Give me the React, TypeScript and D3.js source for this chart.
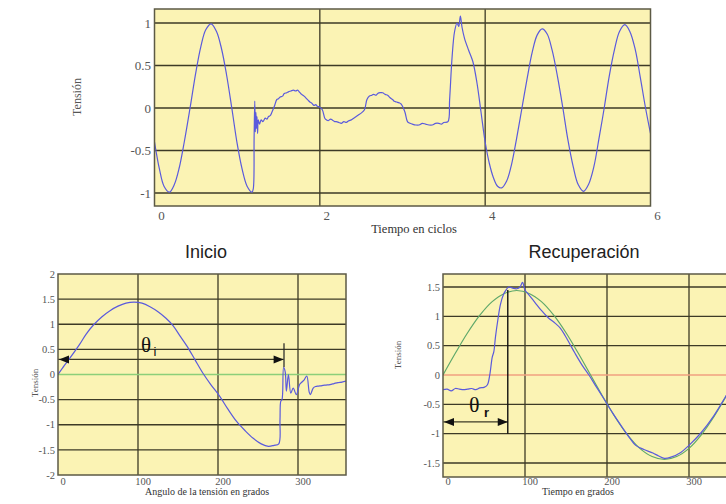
import React from "react";
import * as d3 from "d3";

// ---------- DATA ----------
// Top chart: tension vs time in cycles
const topXTicks = [0, 2, 4, 6];
const topYTicks = [1, 0.5, 0, -0.5, -1];
const topXGrid = [2, 4];
const topWave: [number, number][] = [
  [0, -0.4], [0.06, -0.72], [0.115, -0.92], [0.18, -0.99], [0.24, -0.9], [0.3, -0.7], [0.36, -0.4],
  [0.43, 0.0], [0.5, 0.42], [0.56, 0.72], [0.62, 0.92], [0.685, 0.99], [0.75, 0.9], [0.81, 0.7],
  [0.87, 0.4], [0.935, 0.0], [1.0, -0.42], [1.06, -0.72], [1.12, -0.92], [1.18, -0.99], [1.195, -0.95],
  [1.205, -0.35], [1.213, 0.08], [1.22, -0.28], [1.227, -0.05], [1.234, -0.24], [1.24, -0.1],
  [1.247, -0.3], [1.255, -0.14], [1.27, -0.19], [1.29, -0.14], [1.31, -0.16], [1.34, -0.12],
  [1.36, -0.13], [1.38, -0.1], [1.4, -0.09], [1.42, -0.05], [1.45, 0.02], [1.48, 0.1], [1.5, 0.11],
  [1.52, 0.13], [1.55, 0.14], [1.57, 0.17], [1.6, 0.18], [1.62, 0.19], [1.65, 0.2], [1.68, 0.21],
  [1.71, 0.2], [1.73, 0.21], [1.76, 0.18], [1.78, 0.16], [1.81, 0.14], [1.83, 0.12], [1.86, 0.09],
  [1.88, 0.07], [1.9, 0.06], [1.93, 0.03], [1.95, 0.04], [1.97, 0.02], [2.0, 0.01], [2.03, -0.02],
  [2.06, -0.12], [2.08, -0.14], [2.1, -0.15], [2.13, -0.13], [2.15, -0.14], [2.18, -0.16],
  [2.2, -0.16], [2.23, -0.17], [2.26, -0.18], [2.29, -0.16], [2.32, -0.17], [2.35, -0.15],
  [2.38, -0.14], [2.41, -0.12], [2.44, -0.1], [2.47, -0.08], [2.5, -0.06], [2.54, -0.02],
  [2.57, 0.1], [2.6, 0.14], [2.63, 0.15], [2.65, 0.16], [2.68, 0.15], [2.7, 0.17], [2.73, 0.18],
  [2.76, 0.18], [2.79, 0.16], [2.82, 0.15], [2.85, 0.12], [2.88, 0.1], [2.9, 0.08], [2.93, 0.07],
  [2.96, 0.06], [2.98, 0.05], [3.0, 0.02], [3.03, -0.05], [3.06, -0.16], [3.09, -0.18],
  [3.12, -0.19], [3.16, -0.2], [3.2, -0.2], [3.24, -0.18], [3.28, -0.19], [3.32, -0.2],
  [3.36, -0.2], [3.4, -0.18], [3.44, -0.18], [3.47, -0.19], [3.5, -0.17], [3.55, -0.16],
  [3.57, 0.1], [3.6, 0.6], [3.63, 0.9], [3.66, 1.0], [3.68, 0.96], [3.7, 1.08], [3.72, 0.95],
  [3.75, 0.82], [3.8, 0.68], [3.85, 0.55], [3.9, 0.3], [3.95, -0.05], [4.0, -0.4], [4.05, -0.65],
  [4.1, -0.82], [4.15, -0.92], [4.2, -0.94], [4.26, -0.86], [4.32, -0.66], [4.38, -0.36],
  [4.445, 0.0], [4.51, 0.36], [4.57, 0.66], [4.63, 0.86], [4.69, 0.93], [4.75, 0.87], [4.81, 0.68],
  [4.875, 0.37], [4.94, 0.0], [5.0, -0.37], [5.065, -0.69], [5.125, -0.9], [5.19, -0.98],
  [5.25, -0.9], [5.315, -0.69], [5.375, -0.37], [5.44, 0.0], [5.5, 0.37], [5.565, 0.69],
  [5.625, 0.9], [5.69, 0.98], [5.75, 0.9], [5.815, 0.69], [5.875, 0.37], [5.94, 0.0], [6.0, -0.3],
];

// Bottom-left: Inicio
const iniXTicks = [0, 100, 200, 300];
const iniYTicks = [2, 1.5, 1, 0.5, 0, -0.5, -1, -1.5, -2];
const iniYGrid = [1.5, 1, 0.5, -0.5, -1, -1.5];
const iniXGrid = [100, 200, 300];
const iniWave: [number, number][] = [
  [0, 0.0], [8, 0.18], [15, 0.33], [27, 0.6], [35, 0.8], [44, 0.98], [55, 1.15], [65, 1.27],
  [75, 1.36], [85, 1.42], [95, 1.44], [105, 1.42], [115, 1.35], [125, 1.25], [135, 1.12],
  [144, 0.97], [152, 0.78], [161, 0.57], [171, 0.3], [181, 0.03], [191, -0.2], [202, -0.43],
  [212, -0.68], [223, -0.93], [234, -1.12], [244, -1.27], [254, -1.38], [263, -1.43], [270, -1.41],
  [276, -1.38], [277.5, -0.9], [278.5, -0.53], [280, -0.5], [282, 0.14], [284, 0.05],
  [285.5, -0.33], [288, 0.0], [291, -0.37], [294, -0.27], [298, -0.4], [302, -0.2], [305, -0.15],
  [308, -0.1], [311, -0.03], [314, -0.35], [315.5, -0.4], [319, -0.27], [322, -0.24], [326, -0.23],
  [330, -0.22], [335, -0.21], [340, -0.2], [345, -0.18], [350, -0.16], [355, -0.15], [360, -0.13],
];
const iniArrow = { from: 0, to: 282, level: 0.3 };
const iniMarker = { at: 282.5, top: 0.62, bottom: 0.15 };

// Bottom-right: Recuperación
const recXTicks = [0, 100, 200, 300];
const recYTicks = [1.5, 1, 0.5, 0, -0.5, -1, -1.5];
const recYGrid = [1.5, 1, 0.5, -0.5, -1, -1.5];
const recXGrid = [100, 200, 300];
const recIdeal: [number, number][] = [
  [0, 0], [15, 0.37], [30, 0.72], [45, 1.02], [60, 1.25], [75, 1.39], [90, 1.44], [105, 1.39],
  [120, 1.25], [135, 1.02], [150, 0.72], [165, 0.37], [180, 0], [195, -0.37], [210, -0.72],
  [225, -1.02], [240, -1.25], [255, -1.39], [270, -1.44], [285, -1.39], [300, -1.25],
  [315, -1.02], [330, -0.72], [345, -0.37], [360, 0],
];
const recWave: [number, number][] = [
  [0, -0.25], [5, -0.24], [10, -0.27], [15, -0.23], [20, -0.24], [25, -0.25], [30, -0.24],
  [35, -0.23], [40, -0.25], [45, -0.22], [50, -0.21], [54, -0.17], [57, 0.0], [60, 0.3], [62, 0.4],
  [64, 0.65], [67, 0.95], [70, 1.2], [74, 1.38], [77, 1.45], [80, 1.5], [85, 1.48], [90, 1.47],
  [94, 1.5], [97, 1.58], [100, 1.45], [104, 1.38], [112, 1.24], [120, 1.1], [128, 0.98],
  [137, 0.88], [143, 0.8], [149, 0.67], [155, 0.52], [161, 0.37], [170, 0.16], [178, 0.0],
  [186, -0.18], [195, -0.38], [207, -0.65], [219, -0.9], [228, -1.08], [235, -1.2], [245, -1.27],
  [256, -1.33], [263, -1.38], [270, -1.42], [278, -1.4], [290, -1.32], [300, -1.2], [315, -0.98],
  [330, -0.7], [345, -0.36], [360, 0],
];
const recArrow = { from: 0, to: 79, level: -0.8 };
const recMarker = { at: 79, top: 1.45, bottom: -1.0 };

// ---------- STYLE ----------
const BG = "#fbf3b4";
const GRID = "#3d3a26";
const FRAME = "#5c5a45";
const BLUE = "#5a5adc";
const LABEL = "#555";
const SERIF = "'Liberation Serif', 'Times New Roman', serif";
const SANS = "'Liberation Sans', Arial, sans-serif";

function Arrowhead({ x, y, dir }: { x: number; y: number; dir: 1 | -1 }) {
  const L = 10, H = 4;
  return (
    <polygon
      points={`${x},${y} ${x - dir * L},${y - H} ${x - dir * L},${y + H}`}
      fill="#111"
    />
  );
}

export default function App() {
  // Top chart
  const tx = d3.scaleLinear().domain([0, 6]).range([154.5, 650.5]);
  const ty = d3.scaleLinear().domain([-1, 1]).range([193, 23]);
  const tTop = 9, tBottom = 206;
  const topLine = d3.line<[number, number]>().x(d => tx(d[0])).y(d => ty(d[1])).curve(d3.curveCatmullRom.alpha(0.5));

  // Inicio
  const ix = d3.scaleLinear().domain([0, 360]).range([58, 346]);
  const iy = d3.scaleLinear().domain([-2, 2]).range([475, 274]);
  const iniLine = d3.line<[number, number]>().x(d => ix(d[0])).y(d => iy(d[1])).curve(d3.curveCatmullRom.alpha(0.5));

  // Recuperación
  const rx = d3.scaleLinear().domain([0, 300]).range([443, 689]);
  const ry = d3.scaleLinear().domain([-1.5, 1.5]).range([463, 287]);
  const rTop = 274, rBottom = 477, rRight = 730;
  const recLine = d3.line<[number, number]>().x(d => rx(d[0])).y(d => ry(d[1])).curve(d3.curveCatmullRom.alpha(0.5));

  return (
    <svg
      width={726}
      height={504}
      viewBox="0 0 726 504"
      style={{ position: "absolute", left: 0, top: 0, background: "#fff" }}
    >
      <defs>
        <clipPath id="clipTop"><rect x={tx(0)} y={tTop} width={tx(6) - tx(0)} height={tBottom - tTop} /></clipPath>
        <clipPath id="clipIni"><rect x={ix(0)} y={iy(2)} width={ix(360) - ix(0)} height={iy(-2) - iy(2)} /></clipPath>
        <clipPath id="clipRec"><rect x={rx(0)} y={rTop} width={rRight - rx(0)} height={rBottom - rTop} /></clipPath>
      </defs>

      {/* ===== TOP CHART ===== */}
      <rect x={tx(0)} y={tTop} width={tx(6) - tx(0)} height={tBottom - tTop} fill={BG} />
      {topYTicks.map(v => (
        <line key={"tyg" + v} x1={tx(0)} x2={tx(6)} y1={ty(v)} y2={ty(v)} stroke={GRID} strokeWidth={1.3} />
      ))}
      {topXGrid.map(v => (
        <line key={"txg" + v} x1={tx(v)} x2={tx(v)} y1={tTop} y2={tBottom} stroke={GRID} strokeWidth={1.3} />
      ))}
      <path d={topLine(topWave) || ""} fill="none" stroke={BLUE} strokeWidth={1.2} clipPath="url(#clipTop)" />
      <rect x={tx(0)} y={tTop} width={tx(6) - tx(0)} height={tBottom - tTop} fill="none" stroke={FRAME} strokeWidth={1.5} />
      {topYTicks.map(v => (
        <text key={"tyl" + v} x={151} y={ty(v)} dy="0.35em" textAnchor="end" fontFamily={SERIF} fontSize={13} fill={LABEL}>
          {v}
        </text>
      ))}
      {topXTicks.map(v => (
        <text key={"txl" + v} x={tx(v) + 7} y={220} textAnchor="middle" fontFamily={SERIF} fontSize={13} fill={LABEL}>
          {v}
        </text>
      ))}
      <text x={414} y={233} textAnchor="middle" fontFamily={SERIF} fontSize={12.5} fill="#333">
        Tiempo en ciclos
      </text>
      <text transform="translate(81,97) rotate(-90)" textAnchor="middle" fontFamily={SERIF} fontSize={12} fill={LABEL}>
        Tensión
      </text>

      {/* ===== INICIO ===== */}
      <text x={206} y={258} textAnchor="middle" fontFamily={SANS} fontSize={18} fill="#222">Inicio</text>
      <rect x={ix(0)} y={iy(2)} width={ix(360) - ix(0)} height={iy(-2) - iy(2)} fill={BG} />
      {iniYGrid.map(v => (
        <line key={"iyg" + v} x1={ix(0)} x2={ix(360)} y1={iy(v)} y2={iy(v)} stroke={GRID} strokeWidth={1.3} />
      ))}
      {iniXGrid.map(v => (
        <line key={"ixg" + v} x1={ix(v)} x2={ix(v)} y1={iy(2)} y2={iy(-2)} stroke={GRID} strokeWidth={1.3} />
      ))}
      <line x1={ix(0)} x2={ix(360)} y1={iy(0)} y2={iy(0)} stroke="#8ccf7a" strokeWidth={1.5} />
      <line x1={ix(iniArrow.from)} x2={ix(iniArrow.to)} y1={iy(iniArrow.level)} y2={iy(iniArrow.level)} stroke={GRID} strokeWidth={1.3} />
      <path d={iniLine(iniWave) || ""} fill="none" stroke={BLUE} strokeWidth={1.2} clipPath="url(#clipIni)" />
      <line x1={ix(iniMarker.at)} x2={ix(iniMarker.at)} y1={iy(iniMarker.top)} y2={iy(iniMarker.bottom)} stroke="#222" strokeWidth={1.2} />
      <Arrowhead x={ix(iniArrow.from) + 1} y={iy(iniArrow.level)} dir={-1} />
      <Arrowhead x={ix(iniArrow.to)} y={iy(iniArrow.level)} dir={1} />
      <text x={141} y={352} fontFamily={SERIF} fontSize={21} fill="#111">θ</text>
      <text x={153.5} y={356} fontFamily={SANS} fontSize={13} fill="#111">i</text>
      <rect x={ix(0)} y={iy(2)} width={ix(360) - ix(0)} height={iy(-2) - iy(2)} fill="none" stroke={FRAME} strokeWidth={1.5} />
      {iniYTicks.map(v => (
        <text key={"iyl" + v} x={55} y={iy(v)} dy="0.35em" textAnchor="end" fontFamily={SERIF} fontSize={10.5} fill={LABEL}>
          {v}
        </text>
      ))}
      {iniXTicks.map(v => (
        <text key={"ixl" + v} x={ix(v) + 5} y={485} textAnchor="middle" fontFamily={SERIF} fontSize={10.5} fill={LABEL}>
          {v}
        </text>
      ))}
      <text x={207} y={495} textAnchor="middle" fontFamily={SERIF} fontSize={10} fill="#333">
        Angulo de la tensión en grados
      </text>
      <text transform="translate(38,383) rotate(-90)" textAnchor="middle" fontFamily={SERIF} fontSize={9} fill={LABEL}>
        Tensión
      </text>

      {/* ===== RECUPERACIÓN ===== */}
      <text x={584} y={258} textAnchor="middle" fontFamily={SANS} fontSize={18} fill="#222">Recuperación</text>
      <rect x={rx(0)} y={rTop} width={rRight - rx(0)} height={rBottom - rTop} fill={BG} />
      {recYGrid.map(v => (
        <line key={"ryg" + v} x1={rx(0)} x2={rRight} y1={ry(v)} y2={ry(v)} stroke={GRID} strokeWidth={1.3} />
      ))}
      {recXGrid.map(v => (
        <line key={"rxg" + v} x1={rx(v)} x2={rx(v)} y1={rTop} y2={rBottom} stroke={GRID} strokeWidth={1.3} />
      ))}
      <line x1={rx(0)} x2={rRight} y1={ry(0)} y2={ry(0)} stroke="#f0a080" strokeWidth={1.5} />
      <line x1={rx(recArrow.from)} x2={rx(recArrow.to)} y1={ry(recArrow.level)} y2={ry(recArrow.level)} stroke={GRID} strokeWidth={1.3} />
      <path d={recLine(recIdeal) || ""} fill="none" stroke="#5fa86a" strokeWidth={1.2} clipPath="url(#clipRec)" />
      <path d={recLine(recWave) || ""} fill="none" stroke={BLUE} strokeWidth={1.2} clipPath="url(#clipRec)" />
      <line x1={rx(recMarker.at)} x2={rx(recMarker.at)} y1={ry(recMarker.top)} y2={ry(recMarker.bottom)} stroke="#111" strokeWidth={1.4} />
      <Arrowhead x={rx(recArrow.from) + 1} y={ry(recArrow.level)} dir={-1} />
      <Arrowhead x={rx(recArrow.to)} y={ry(recArrow.level)} dir={1} />
      <text x={469} y={412} fontFamily={SERIF} fontSize={22} fill="#111">θ</text>
      <text x={484} y={417} fontFamily={SANS} fontSize={13} fontWeight="bold" fill="#111">r</text>
      <rect x={rx(0)} y={rTop} width={rRight - rx(0)} height={rBottom - rTop} fill="none" stroke={FRAME} strokeWidth={1.5} />
      {recYTicks.map(v => (
        <text key={"ryl" + v} x={440} y={ry(v)} dy="0.35em" textAnchor="end" fontFamily={SERIF} fontSize={10.5} fill={LABEL}>
          {v}
        </text>
      ))}
      {recXTicks.map(v => (
        <text key={"rxl" + v} x={rx(v) + 5} y={485} textAnchor="middle" fontFamily={SERIF} fontSize={10.5} fill={LABEL}>
          {v}
        </text>
      ))}
      <text x={578} y={495} textAnchor="middle" fontFamily={SERIF} fontSize={10} fill="#333">
        Tiempo en grados
      </text>
      <text transform="translate(401,355) rotate(-90)" textAnchor="middle" fontFamily={SERIF} fontSize={9} fill={LABEL}>
        Tensión
      </text>
    </svg>
  );
}
